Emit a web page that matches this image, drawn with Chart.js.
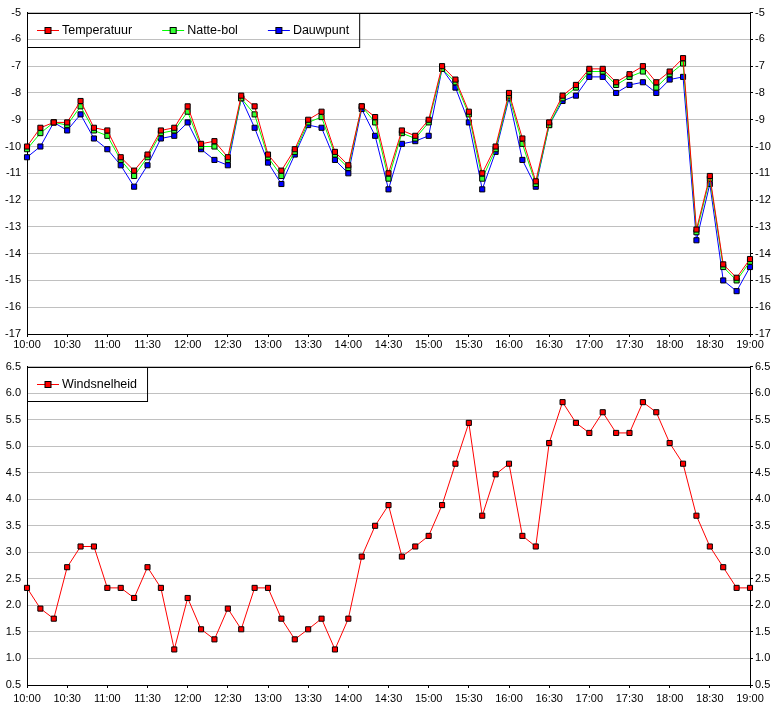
<!DOCTYPE html>
<html>
<head>
<meta charset="utf-8">
<script src="https://cdn.jsdelivr.net/npm/chart.js@4.4.0/dist/chart.umd.min.js"></script>
<style>
body { margin: 0; background: #fff; }
canvas { display: block; }
</style>
</head>
<body>
<canvas id="tempChart" width="781" height="354"></canvas>
<canvas id="windChart" width="781" height="355"></canvas>
<script>
// tijdstippen, elke 10 minuten
const times = [
    "10:00", "10:10", "10:20", "10:30", "10:40", "10:50",
    "11:00", "11:10", "11:20", "11:30", "11:40", "11:50",
    "12:00", "12:10", "12:20", "12:30", "12:40", "12:50",
    "13:00", "13:10", "13:20", "13:30", "13:40", "13:50",
    "14:00", "14:10", "14:20", "14:30", "14:40", "14:50",
    "15:00", "15:10", "15:20", "15:30", "15:40", "15:50",
    "16:00", "16:10", "16:20", "16:30", "16:40", "16:50",
    "17:00", "17:10", "17:20", "17:30", "17:40", "17:50",
    "18:00", "18:10", "18:20", "18:30", "18:40", "18:50",
    "19:00"
];

const temperatuur = [
    -10.0, -9.3, -9.1, -9.1, -8.3, -9.3, -9.4, -10.4, -10.9, -10.3, -9.4, -9.3, -8.5, -9.9, -9.8, -10.4, -8.1, -8.5,
    -10.3, -10.9, -10.1, -9.0, -8.7, -10.2, -10.7, -8.5, -8.9, -11.0, -9.4, -9.6, -9.0, -7.0, -7.5, -8.7, -11.0, -10.0, -8.0,
    -9.7, -11.3, -9.1, -8.1, -7.7, -7.1, -7.1, -7.6, -7.3, -7.0, -7.6, -7.2, -6.7, -13.1, -11.1, -14.4, -14.9, -14.2
];

const natteBol = [
    -10.1, -9.5, -9.1, -9.2, -8.5, -9.4, -9.6, -10.5, -11.1, -10.4, -9.5, -9.4, -8.7, -10.0, -10.0, -10.5, -8.2, -8.8,
    -10.4, -11.1, -10.2, -9.1, -8.9, -10.3, -10.8, -8.5, -9.1, -11.2, -9.5, -9.7, -9.1, -7.1, -7.6, -8.8, -11.2, -10.1, -8.1,
    -9.9, -11.4, -9.2, -8.2, -7.8, -7.2, -7.2, -7.7, -7.4, -7.2, -7.8, -7.3, -6.9, -13.2, -11.2, -14.5, -15.0, -14.3
];

const dauwpunt = [
    -10.4, -10.0, -9.1, -9.4, -8.8, -9.7, -10.1, -10.7, -11.5, -10.7, -9.7, -9.6, -9.1, -10.1, -10.5, -10.7, -8.2, -9.3,
    -10.6, -11.4, -10.3, -9.2, -9.3, -10.5, -11.0, -8.6, -9.6, -11.6, -9.9, -9.8, -9.6, -7.1, -7.8, -9.1, -11.6, -10.2, -8.2,
    -10.5, -11.5, -9.2, -8.3, -8.1, -7.4, -7.4, -8.0, -7.7, -7.6, -8.0, -7.5, -7.4, -13.5, -11.4, -15.0, -15.4, -14.5
];

const windsnelheid = [
    2.33, 1.94, 1.75, 2.72, 3.11, 3.11, 2.33, 2.33, 2.14, 2.72, 2.33, 1.17, 2.14, 1.55, 1.36, 1.94, 1.55, 2.33,
    2.33, 1.75, 1.36, 1.55, 1.75, 1.17, 1.75, 2.92, 3.50, 3.89, 2.92, 3.11, 3.31, 3.89, 4.67, 5.44, 3.69, 4.47, 4.67,
    3.31, 3.11, 5.06, 5.83, 5.44, 5.25, 5.64, 5.25, 5.25, 5.83, 5.64, 5.06, 4.67, 3.69, 3.11, 2.72, 2.33, 2.33
];

const fontFamily = "'Liberation Sans', Arial, sans-serif";
Chart.defaults.font.family = fontFamily;
Chart.defaults.font.size = 11;
Chart.defaults.color = "#000";

// bovenrand van het plotvlak en legenda in een kader linksboven
const boxLegend = {
    id: "boxLegend",
    afterDatasetsDraw(chart) {
        const ctx = chart.ctx;
        const area = chart.chartArea;
        const left = Math.round(area.left) + 0.5;
        const top = Math.round(area.top) + 0.5;
        ctx.save();
        ctx.strokeStyle = "#000";
        ctx.lineWidth = 1;
        ctx.beginPath();
        ctx.moveTo(left, top);
        ctx.lineTo(Math.round(area.right) + 0.5, top);
        ctx.stroke();

        ctx.font = "12.5px " + fontFamily;
        ctx.textBaseline = "middle";
        const cy = Math.round(area.top) + 17.5;
        let x = Math.round(area.left) + 10;
        chart.data.datasets.forEach((ds) => {
            ctx.strokeStyle = ds.borderColor;
            ctx.beginPath();
            ctx.moveTo(x, cy);
            ctx.lineTo(x + 22, cy);
            ctx.stroke();
            ctx.fillStyle = ds.pointBackgroundColor;
            ctx.fillRect(x + 8, cy - 3, 6, 6);
            ctx.strokeStyle = "#000";
            ctx.strokeRect(x + 8, cy - 3, 6, 6);
            ctx.fillStyle = "#000";
            ctx.fillText(ds.label, x + 25, cy);
            x += 25 + ctx.measureText(ds.label).width + 30;
        });
        const width = x - 30 + 10 - Math.round(area.left);
        ctx.strokeStyle = "#000";
        ctx.strokeRect(left, top, width, 34);
        ctx.restore();
    }
};

function series(label, data, color, fill) {
    return {
        label: label,
        data: data,
        borderColor: color,
        borderWidth: 1,
        pointStyle: "rect",
        pointRadius: 3.6,
        pointHoverRadius: 3.6,
        pointBackgroundColor: fill,
        pointBorderColor: "#000",
        pointBorderWidth: 1,
        tension: 0
    };
}

function buildScales(min, max, step, decimals, xHeight, labelPad) {
    const fmt = v => Number(v).toFixed(decimals);
    return {
        x: {
            ticks: {
                autoSkip: false,
                maxRotation: 0,
                padding: labelPad,
                callback: (v, i) => i % 3 === 0 ? times[i] : ""
            },
            grid: {
                drawOnChartArea: false,
                tickLength: 3,
                tickColor: c => c.index % 3 === 0 ? "#000" : "rgba(0,0,0,0)"
            },
            border: { color: "#000" },
            afterFit: s => { s.height = xHeight; }
        },
        y: {
            min: min,
            max: max,
            ticks: { stepSize: step, padding: 6, callback: fmt },
            grid: { color: "#c0c0c0", drawTicks: false },
            border: { color: "#000" },
            afterFit: s => { s.width = 27; }
        },
        y2: {
            position: "right",
            min: min,
            max: max,
            ticks: { stepSize: step, padding: 2, callback: fmt },
            grid: { drawOnChartArea: false, tickLength: 3, color: "#000" },
            border: { color: "#000" },
            afterFit: s => { s.width = 31; }
        }
    };
}

const tempCtx = document.getElementById("tempChart");

new Chart(tempCtx, {
    type: "line",
    data: {
        labels: times,
        datasets: [
            series("Temperatuur", temperatuur, "#ff0000", "#ff0000"),
            series("Natte-bol", natteBol, "#00ff00", "#33ff33"),
            series("Dauwpunt", dauwpunt, "#0000ff", "#0000ff")
        ]
    },
    options: {
        responsive: false,
        animation: false,
        devicePixelRatio: 1,
        layout: { padding: { top: 11 } },
        plugins: { legend: { display: false }, tooltip: { enabled: false } },
        scales: buildScales(-17, -5, 1, 0, 20, 1)
    },
    plugins: [boxLegend]
});

const windCtx = document.getElementById("windChart");

new Chart(windCtx, {
    type: "line",
    data: {
        labels: times,
        datasets: [
            series("Windsnelheid", windsnelheid, "#ff0000", "#ff0000")
        ]
    },
    options: {
        responsive: false,
        animation: false,
        devicePixelRatio: 1,
        layout: { padding: { top: 8 } },
        plugins: { legend: { display: false }, tooltip: { enabled: false } },
        scales: buildScales(0.5, 6.5, 0.5, 1, 24, 4)
    },
    plugins: [boxLegend]
});
</script>
</body>
</html>
